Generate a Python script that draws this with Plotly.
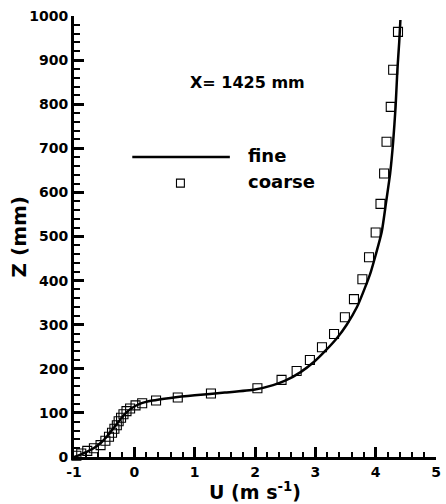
import plotly.graph_objects as go

# Streamwise velocity profile at X = 1425 mm: fine vs coarse grid
u_fine = [-1.0, -0.9, -0.78, -0.65, -0.54, -0.45, -0.37, -0.29, -0.21, -0.13, -0.04,
          0.1, 0.3, 0.6, 1.0, 1.5, 2.0, 2.3, 2.5, 2.75, 2.98, 3.16, 3.36, 3.52, 3.69,
          3.82, 3.92, 4.0, 4.1, 4.17, 4.24, 4.29, 4.33, 4.36, 4.39, 4.41]
z_fine = [0, 5, 12, 22, 34, 47, 61, 75, 89, 101, 111,
          121, 128, 134, 140, 146, 153, 163, 173, 192, 216, 240, 270, 300, 340,
          383, 420, 458, 510, 575, 643, 715, 794, 878, 940, 991]

u_coarse = [-0.96, -0.88, -0.78, -0.67, -0.56, -0.48, -0.42, -0.37, -0.33, -0.29,
            -0.26, -0.22, -0.18, -0.13, -0.07, 0.02, 0.13, 0.36, 0.72, 1.27, 2.04,
            2.44, 2.69, 2.91, 3.11, 3.31, 3.49, 3.64, 3.78, 3.89, 4.00, 4.08, 4.14,
            4.18, 4.25, 4.29, 4.37]
z_coarse = [3, 8, 14, 20, 27, 37, 46, 55, 64, 72,
            81, 89, 97, 104, 110, 117, 122, 128, 135, 144, 156,
            175, 195, 220, 249, 279, 317, 358, 403, 453, 509, 574, 643,
            715, 794, 878, 964]

x_ticks = [-1, 0, 1, 2, 3, 4, 5]
x_tick_labels = ["-1", "0", "1", "2", "3", "4", "5"]
y_ticks = [0, 100, 200, 300, 400, 500, 600, 700, 800, 900, 1000]
y_tick_labels = ["0", "100", "200", "300", "400", "500", "600", "700", "800", "900", "1000"]

FONT = "DejaVu Sans"

fig = go.Figure()
fig.add_trace(go.Scatter(
    x=u_fine, y=z_fine, mode="lines", name="fine",
    line=dict(color="black", width=2.5, shape="spline", smoothing=0.6),
    showlegend=False,
))
fig.add_trace(go.Scatter(
    x=u_coarse, y=z_coarse, mode="markers", name="coarse",
    marker=dict(symbol="square-open", size=9, color="black", line=dict(width=1.1)),
    cliponaxis=False, showlegend=False,
))

axis_common = dict(
    showline=True, linecolor="black", linewidth=3, mirror=False,
    showgrid=False, zeroline=False,
    ticks="inside", ticklen=10, tickwidth=2.5, tickcolor="black",
    tickfont=dict(family=FONT, size=14, color="black", weight="bold"),
)

fig.update_xaxes(
    range=[-1, 5], tickvals=x_ticks, ticktext=x_tick_labels,
    minor=dict(ticks="inside", ticklen=5, tickwidth=1.5, tickcolor="black", dtick=0.2, showgrid=False),
    **axis_common,
)
fig.update_yaxes(
    range=[0, 1000], tickvals=y_ticks, ticktext=y_tick_labels,
    minor=dict(ticks="inside", ticklen=6, tickwidth=1.5, tickcolor="black", dtick=20, showgrid=False),
    **axis_common,
)

# Hand-drawn legend block inside the plot
legend_shapes = [
    dict(type="line", xref="paper", yref="paper", x0=0.161, x1=0.4305, y0=0.680, y1=0.680,
         line=dict(color="black", width=2.5)),
    dict(type="rect", xref="paper", yref="paper", x0=0.294 - 0.0109, x1=0.294 + 0.0109,
         y0=0.621 - 0.00907, y1=0.621 + 0.00907, line=dict(color="black", width=1.1)),
]
for s in legend_shapes:
    fig.add_shape(**s)

bold = lambda size: dict(family=FONT, size=size, color="black", weight="bold")
fig.add_annotation(text="fine", xref="paper", yref="paper", x=0.474, y=0.683,
                   xanchor="left", yanchor="middle", showarrow=False, font=bold(18))
fig.add_annotation(text="coarse", xref="paper", yref="paper", x=0.474, y=0.624,
                   xanchor="left", yanchor="middle", showarrow=False, font=bold(18))
fig.add_annotation(text="X= 1425 mm", xref="paper", yref="paper", x=0.316, y=0.850,
                   xanchor="left", yanchor="middle", showarrow=False, font=bold(16))

# Axis titles
fig.add_annotation(text="U (m s<sup>-1</sup>)", xref="paper", yref="paper", x=0.5, y=-0.108,
                   xanchor="center", yanchor="bottom", showarrow=False, font=bold(19))
fig.add_annotation(text="Z (mm)", xref="paper", yref="paper", x=-0.152, y=0.5,
                   xanchor="center", yanchor="middle", showarrow=False, textangle=-90,
                   font=bold(20))

fig.update_layout(
    width=446, height=504, autosize=False,
    margin=dict(l=74, r=5, t=16, b=47),
    paper_bgcolor="white", plot_bgcolor="white",
)

fig.write_html("out.html")
